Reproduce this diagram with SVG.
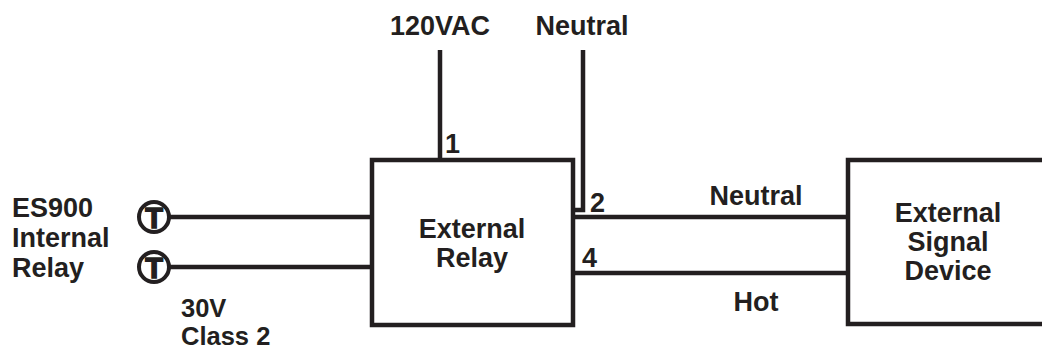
<svg xmlns="http://www.w3.org/2000/svg" width="1042" height="351" viewBox="0 0 1042 351">
<style>
.box{fill:#fff;stroke:#231f20;stroke-width:4.5}
.w{fill:none;stroke:#231f20;stroke-width:4.5}
.t{font-family:"Liberation Sans",Arial,sans-serif;font-weight:bold;font-size:27px;fill:#231f20}
.s{font-size:25.5px}
.m{text-anchor:middle}
.term{fill:#fff;stroke:#231f20;stroke-width:4}
.tt{font-family:"Liberation Sans",Arial,sans-serif;font-weight:bold;font-size:29px;fill:#231f20;stroke:#231f20;stroke-width:1.5;text-anchor:middle}
</style>
<g id="connectors">
<path class="w" d="M440 50V160"/>
<path class="w" d="M583 50V210H573"/>
<path class="w" d="M169 217H372"/>
<path class="w" d="M169 267H372"/>
<path class="w" d="M573 217H848"/>
<path class="w" d="M573 273H848"/>
</g>
<g id="relay">
<rect class="box" x="372" y="160" width="201" height="165"/>
<text class="t m" x="472" y="238">External</text>
<text class="t m" x="472" y="267">Relay</text>
</g>
<g id="device">
<rect class="box" x="848" y="160" width="200" height="164"/>
<text class="t m" x="948" y="222">External</text>
<text class="t m" x="948" y="251">Signal</text>
<text class="t m" x="948" y="280">Device</text>
</g>
<g id="terminal1">
<circle class="term" cx="154" cy="217" r="15"/>
<text class="tt" x="154" y="227.5">T</text>
</g>
<g id="terminal2">
<circle class="term" cx="154" cy="267" r="15"/>
<text class="tt" x="154" y="277.5">T</text>
</g>
<g id="labels">
<text class="t m" x="440" y="35">120VAC</text>
<text class="t m" x="582" y="35">Neutral</text>
<text class="t" x="445" y="153">1</text>
<text class="t" x="590" y="212">2</text>
<text class="t" x="582" y="267">4</text>
<text class="t m" x="756" y="205">Neutral</text>
<text class="t m" x="756" y="311">Hot</text>
<text class="t" x="12" y="217">ES900</text>
<text class="t" x="12" y="247">Internal</text>
<text class="t" x="12" y="277">Relay</text>
<text class="t s" x="181" y="317">30V</text>
<text class="t s" x="181" y="345">Class 2</text>
</g>
</svg>
